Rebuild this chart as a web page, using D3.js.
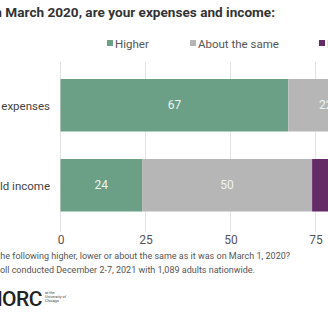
<!DOCTYPE html>
<html><head><meta charset="utf-8">
<script src="https://cdn.jsdelivr.net/npm/d3@7"></script>
<style>html,body{margin:0;padding:0;background:#fff;overflow:hidden}svg{display:block;font-family:Roboto,"Noto Sans",sans-serif}</style>
</head><body>
<script>
const categories = ["Household expenses", "Household income"];
const seriesNames = ["Higher", "About the same", "Lower"];
const higher = [67, 24];
const aboutSame = [22, 50];
const lower = [11, 26];
const ticks = [0, 25, 50, 75, 100];
const colors = ["#6b9f86", "#b6b6b6", "#652b66"];

const W = 328, H = 328;
const svg = d3.select("body").append("svg").attr("width", W).attr("height", H);
svg.append("rect").attr("width", W).attr("height", H).attr("fill", "#fff");

const x = d3.scaleLinear().domain([0, 100]).range([60.5, 400.5]);
const y = d3.scaleBand().domain(categories).range([79, 211.5]).paddingInner(0.344).paddingOuter(0);

// title
svg.append("text").attr("x", 275).attr("y", 17).attr("text-anchor", "end")
  .attr("font-size", 13.6).attr("font-weight", 700).attr("fill", "#333")
  .text("Compared to before the coronavirus outbreak in March 2020, are your expenses and income:");

// legend
const legX = [107, 190, 319];
seriesNames.forEach((n, i) => {
  svg.append("rect").attr("x", legX[i]).attr("y", 40).attr("width", 6).attr("height", 6).attr("fill", colors[i]);
  svg.append("text").attr("x", legX[i] + 8).attr("y", 47.5).attr("font-size", 11.5).attr("fill", "#555").text(n);
});

// grid
svg.append("g").selectAll("line").data(ticks).join("line")
  .attr("x1", d => x(d)).attr("x2", d => x(d)).attr("y1", 62).attr("y2", 232)
  .attr("stroke", "#e2e2e2").attr("stroke-width", 1);

// axis labels
const axis = d3.axisBottom(x).tickValues(ticks).tickSize(0).tickPadding(0);
const ax = svg.append("g").attr("transform", "translate(0,244)").call(axis);
ax.select(".domain").remove();
ax.selectAll("text").attr("font-size", 12).attr("fill", "#555").attr("font-family", "Roboto,sans-serif").attr("dy", "0");

// bars
const rows = categories.map((c, i) => {
  const vals = [higher[i], aboutSame[i], lower[i]];
  let acc = 0;
  return vals.map((v, j) => { const s = acc; acc += v; return {cat: c, j, v, s, e: acc}; });
}).flat();

svg.append("g").selectAll("rect").data(rows).join("rect")
  .attr("x", d => x(d.s)).attr("width", d => x(d.e) - x(d.s))
  .attr("y", d => y(d.cat)).attr("height", y.bandwidth())
  .attr("fill", d => colors[d.j]);

svg.append("g").selectAll("text").data(rows).join("text")
  .attr("x", d => (x(d.s) + x(d.e)) / 2).attr("y", d => y(d.cat) + y.bandwidth() / 2 + 4.2)
  .attr("text-anchor", "middle").attr("font-size", 12).attr("fill", "#eef4f0")
  .text(d => d.v);

// category labels
svg.append("g").selectAll("text").data(categories).join("text")
  .attr("x", 50).attr("y", d => y(d) + y.bandwidth() / 2 + 4.5)
  .attr("text-anchor", "end").attr("font-size", 11.5).attr("fill", "#444").text(d => d);

// footnotes
svg.append("text").attr("x", 290).attr("y", 259).attr("text-anchor", "end")
  .attr("font-size", 9).attr("fill", "#555")
  .text("Question: Is each of the following higher, lower or about the same as it was on March 1, 2020?");
svg.append("text").attr("x", 255).attr("y", 273).attr("text-anchor", "end")
  .attr("font-size", 9).attr("fill", "#555")
  .text("Source: AP-NORC poll conducted December 2-7, 2021 with 1,089 adults nationwide.");

// logo
svg.append("text").attr("x", 42).attr("y", 306).attr("text-anchor", "end")
  .attr("font-size", 21).attr("font-weight", 500).attr("fill", "#222").attr("letter-spacing", -0.5).text("AP-NORC");
["at the", "University of", "Chicago"].forEach((t, i) => {
  svg.append("text").attr("x", 45).attr("y", 294 + i * 4).attr("font-size", 3.8).attr("fill", "#444").text(t);
});
</script>
</body></html>
